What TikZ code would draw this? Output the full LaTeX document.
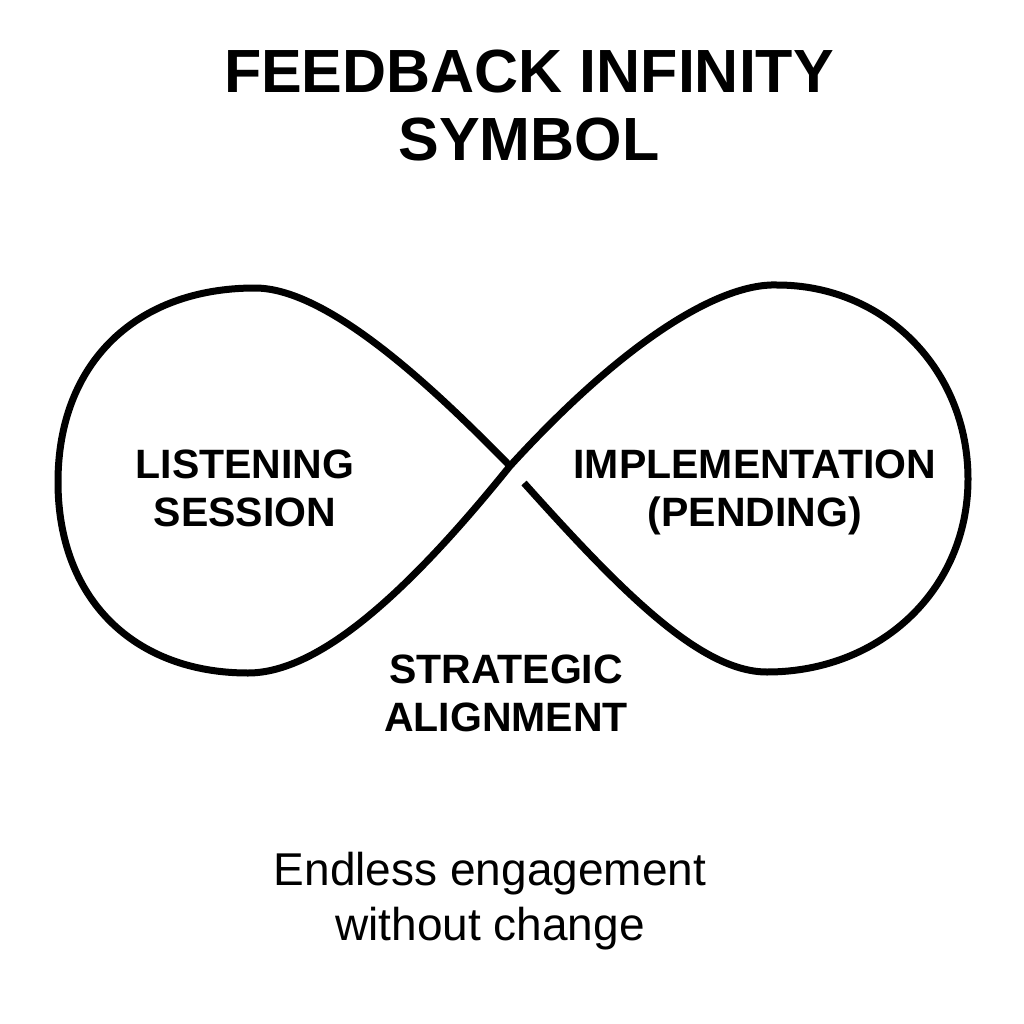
\documentclass[tikz,border=0pt]{standalone}
\usepackage{fontspec}
\setmainfont{Liberation Sans}
\begin{document}
\begin{tikzpicture}[x=1pt,y=-1pt,
  loopline/.style={line width=7pt,line join=round},
  titletext/.style={font=\bfseries\fontsize{61}{68}\selectfont,align=center,inner sep=0pt,anchor=north},
  labeltext/.style={font=\bfseries\fontsize{41}{48}\selectfont,align=center,inner sep=0pt,anchor=north},
  notetext/.style={font=\fontsize{46}{55}\selectfont,align=center,inner sep=0pt,anchor=north}]
\useasboundingbox[fill=white] (0,0) rectangle (1024,1024);
% crossing point and gap start
\coordinate (C) at (510,466);
\coordinate (G) at (524,483);
\draw[loopline] (G)
  .. controls (620,590) and (700,672) .. (767,672)
  .. controls (880,672) and (968,590) .. (968,479)
  .. controls (968,370) and (885,285) .. (777,285)
  .. controls (720,283) and (625,340) .. (C)
  .. controls (410,590) and (320,673) .. (248,673)
  .. controls (135,673) and (58,600) .. (58,482)
  .. controls (58,362) and (137,288) .. (255,288)
  .. controls (332,288) and (445,400) .. (C);
\node[titletext] (title) at (529,50) {FEEDBACK INFINITY\\SYMBOL};
\node[labeltext] (listen) at (245,450) {LISTENING\\SESSION};
\node[labeltext] (impl) at (755,450) {IMPLEMENTATION\\(PENDING)};
\node[labeltext] (strat) at (506,655) {STRATEGIC\\ALIGNMENT};
\node[notetext] (note) at (490,852) {Endless engagement\\without change};
\end{tikzpicture}
\end{document}
